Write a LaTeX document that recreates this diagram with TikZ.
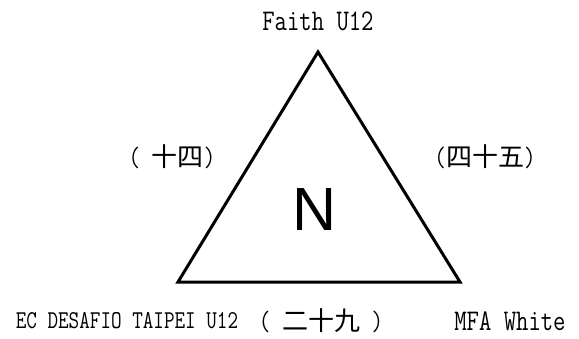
\documentclass[tikz,border=0pt]{standalone}
\usepackage{fontspec}
\usepackage{tikz}
\usetikzlibrary{calc}
\newfontfamily\cjk{Noto Sans CJK SC}
\newfontfamily\narrowmono[FakeStretch=0.8]{Latin Modern Mono}
\newfontfamily\bigsans{Liberation Sans}
\begin{document}
\begin{tikzpicture}[x=1pt,y=-1pt,
    team/.style={inner sep=0pt, font=\narrowmono\fontsize{30}{30}\selectfont},
    score/.style={inner sep=0pt, font=\narrowmono\fontsize{28}{28}\selectfont}]
        \useasboundingbox (0,0) rectangle (579,338);

        \coordinate (a) at (318,52);
        \coordinate (b) at (178,282);
        \coordinate (c) at (460,282);
        \draw[line width=3pt, line join=miter] (a)--(b)--(c)--cycle;

        \node[team](T1) at (318,21){Faith U12};
        \node[team, font=\narrowmono\fontsize{25.7}{26}\selectfont](T2) at (127,321){EC DESAFIO TAIPEI U12};
        \node[team](T3) at (510,321){MFA White};

        \node[score](S1) at (172,157){( {\cjk\fontsize{26}{26}\selectfont 十四})};
        \node[score](S2) at (485,157){({\cjk\fontsize{26}{26}\selectfont 四十五})};
        \node[score](S3) at (321,321){( {\cjk\fontsize{26}{26}\selectfont 二十九} )};

        \node[inner sep=0pt, font=\bigsans\fontsize{61}{61}\selectfont](N) at (315,210){N};

      \end{tikzpicture}
\end{document}
